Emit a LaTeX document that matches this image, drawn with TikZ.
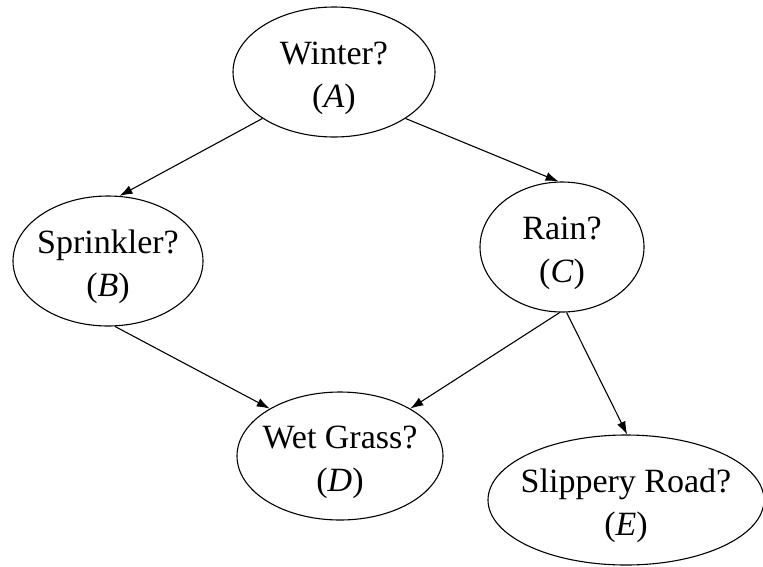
\documentclass[tikz,border=0pt]{standalone}
\usepackage{fontspec}
\setmainfont{Liberation Serif}
\usetikzlibrary{shapes.geometric,arrows.meta}
\newcommand{\bnlabel}[2]{\rule{0pt}{35pt}#1\\(\textit{#2})}
\begin{document}
\begin{tikzpicture}[x=1pt,y=-1pt,
  bn/.style={draw, ellipse, inner sep=-25pt, line width=1.1pt, align=center,
    minimum height=130pt, font=\fontsize{34}{43}\selectfont},
  edge/.style={-{Latex[length=13pt,width=9pt]}, line width=1.1pt}]
\useasboundingbox (0,0) rectangle (763,566);
\node[bn, minimum width=202pt] (A) at (334,72) {\bnlabel{Winter?}{A}};
\node[bn, minimum width=190pt] (B) at (108,261) {\bnlabel{Sprinkler?}{B}};
\node[bn, minimum width=164pt] (C) at (562,247) {\bnlabel{Rain?}{C}};
\node[bn, minimum width=206pt, minimum height=128pt] (D) at (340,456) {\bnlabel{Wet Grass?}{D}};
\node[bn, minimum width=276pt] (E) at (626,500) {\bnlabel{Slippery Road?}{E}};
\draw[edge] (A.213) -- (B.80);
\draw[edge] (A.327) -- (C.93);
\draw[edge] (B.276) -- (D.146);
\draw[edge] (C.268) -- (D.34);
\draw[edge] (C.274) -- (E.89);
\end{tikzpicture}
\end{document}
